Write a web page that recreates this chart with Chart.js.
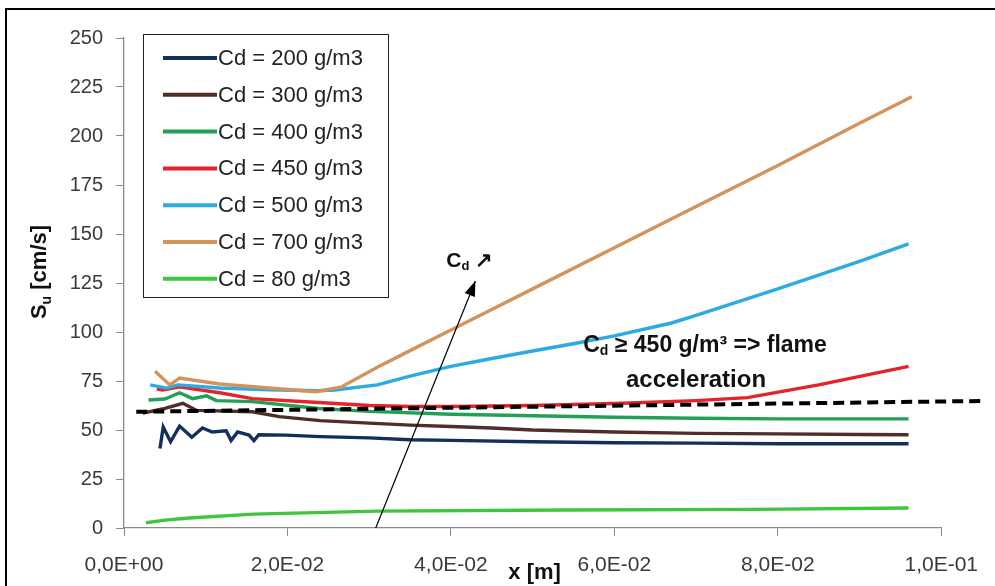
<!DOCTYPE html>
<html>
<head>
<meta charset="utf-8">
<script src="https://cdn.jsdelivr.net/npm/chart.js@4.4.0/dist/chart.umd.min.js"></script>
<style>
  html, body { margin: 0; padding: 0; background: #fff; }
  #wrap { width: 995px; height: 586px; }
</style>
</head>
<body>
<div id="wrap"><canvas id="flameChart" width="995" height="586"></canvas></div>
<script>
const seriesLabels = ["Cd = 200 g/m3", "Cd = 300 g/m3", "Cd = 400 g/m3", "Cd = 450 g/m3", "Cd = 500 g/m3", "Cd = 700 g/m3", "Cd = 80 g/m3"];
const seriesColors = ["#142f5c", "#4f2e29", "#22a055", "#e4232a", "#2aabe2", "#d3935a", "#3fc63e"];

const x200 = [0.0044, 0.0048, 0.0057, 0.0068, 0.0076, 0.0083, 0.0096, 0.0108, 0.0125, 0.0131, 0.0139, 0.0153, 0.0159, 0.0165, 0.0198, 0.024, 0.03, 0.035, 0.04, 0.05, 0.06, 0.07, 0.08, 0.09, 0.096];
const su200 = [40.5, 51.5, 44, 52, 49, 46.3, 51, 49, 49.6, 44.6, 49, 47.4, 44.6, 47.6, 47.4, 46.6, 46, 45, 44.7, 44, 43.5, 43.3, 43, 43, 43];

const x300 = [0.0023, 0.0047, 0.0072, 0.0089, 0.0157, 0.019, 0.024, 0.03, 0.035, 0.04, 0.045, 0.05, 0.055, 0.06, 0.07, 0.08, 0.09, 0.096];
const su300 = [58.6, 60.7, 63.6, 60, 59.3, 56.8, 54.8, 53.5, 52.5, 51.8, 51, 50, 49.5, 49, 48.3, 48, 47.7, 47.6];

const x400 = [0.003, 0.005, 0.0068, 0.0084, 0.0101, 0.0113, 0.0157, 0.0238, 0.03, 0.04, 0.05, 0.06, 0.07, 0.08, 0.096];
const su400 = [65.3, 65.8, 69, 66, 67.4, 65, 64.5, 61, 59.5, 58, 57.3, 56.5, 56, 55.7, 55.7];

const x450 = [0.004, 0.0047, 0.0068, 0.0117, 0.0157, 0.0238, 0.03, 0.035, 0.04, 0.05, 0.06, 0.07, 0.0763, 0.085, 0.096];
const su450 = [71, 70.4, 72, 69, 66, 64, 62.5, 62, 62, 62.5, 63.5, 65, 66.5, 73, 82.5];

const x500 = [0.0032, 0.0052, 0.0066, 0.0117, 0.0177, 0.0238, 0.0258, 0.031, 0.035, 0.04, 0.045, 0.05, 0.055, 0.06, 0.067, 0.07, 0.08, 0.09, 0.096];
const su500 = [73, 71.4, 73, 71.4, 70.5, 70, 70.4, 73, 77.5, 82.5, 86.5, 90.3, 94, 98, 104.6, 108.5, 122, 136, 145];

const x700 = [0.0038, 0.0056, 0.0068, 0.0117, 0.0177, 0.0235, 0.0266, 0.031, 0.035, 0.04, 0.045, 0.05, 0.06, 0.07, 0.08, 0.09, 0.0964];
const su700 = [80, 73, 76.5, 73.5, 71.4, 69.5, 72, 82, 90.5, 101, 111.5, 122, 143, 164, 185, 206.5, 220];

const x80 = [0.0027, 0.005, 0.008, 0.0158, 0.031, 0.054, 0.077, 0.096];
const su80 = [2.7, 4, 5.1, 7.1, 8.6, 9.2, 9.5, 10.2];

// dashed trend line and the "Cd increases" arrow
const xDash = [0.0015, 0.1049];
const suDash = [59.3, 64.8];
const xArrow = [0.0308, 0.0430];
const suArrow = [0, 126];

const xTicks = [0, 0.02, 0.04, 0.06, 0.08, 0.1];

const textFont = "'Liberation Sans', Arial, sans-serif";

function toPoints(xs, ys) {
    return xs.map((x, i) => ({ x: x, y: ys[i] }));
}

function sciComma(v) {
    const parts = v.toExponential(1).split("e");
    const ex = parseInt(parts[1], 10);
    return parts[0].replace(".", ",") + "E" + (ex < 0 ? "-" : "+") + String(Math.abs(ex)).padStart(2, "0");
}

const seriesX = [x200, x300, x400, x450, x500, x700, x80];
const seriesY = [su200, su300, su400, su450, su500, su700, su80];

const datasets = seriesLabels.map((label, i) => ({
    label: label,
    data: toPoints(seriesX[i], seriesY[i]),
    borderColor: seriesColors[i],
    borderWidth: 3.4,
    pointRadius: 0,
    showLine: true,
    tension: 0,
    order: 10 - i
}));

datasets.push({
    label: "trend",
    data: toPoints(xDash, suDash),
    borderColor: "#000",
    borderWidth: 4,
    borderDash: [11, 6],
    pointRadius: 0,
    showLine: true,
    clip: false,
    order: 0
});

datasets.push({
    label: "arrow",
    data: toPoints(xArrow, suArrow),
    borderColor: "#000",
    borderWidth: 1.2,
    pointRadius: 0,
    showLine: true,
    clip: false,
    order: 0
});

// draws frame, legend, axis titles and text notes
const decorPlugin = {
    id: "decor",
    beforeDraw(chart) {
        const ctx = chart.ctx;
        ctx.save();
        ctx.fillStyle = "#fff";
        ctx.fillRect(0, 0, chart.width, chart.height);
        ctx.strokeStyle = "#000";
        ctx.lineWidth = 2;
        ctx.beginPath();
        ctx.moveTo(6, chart.height + 5);
        ctx.lineTo(6, 9);
        ctx.lineTo(chart.width + 5, 9);
        ctx.stroke();
        ctx.restore();
    },
    afterDatasetsDraw(chart) {
        const ctx = chart.ctx;
        const xs = chart.scales.x, ys = chart.scales.y;
        const bx = xs.getPixelForValue(xArrow[0]), by = ys.getPixelForValue(suArrow[0]);
        const tx = xs.getPixelForValue(xArrow[1]), ty = ys.getPixelForValue(suArrow[1]);
        const ang = Math.atan2(ty - by, tx - bx);
        const len = 15, half = 5.5;
        ctx.save();
        ctx.fillStyle = "#000";
        ctx.beginPath();
        ctx.moveTo(tx, ty);
        ctx.lineTo(tx - len * Math.cos(ang) + half * Math.sin(ang), ty - len * Math.sin(ang) - half * Math.cos(ang));
        ctx.lineTo(tx - len * Math.cos(ang) - half * Math.sin(ang), ty - len * Math.sin(ang) + half * Math.cos(ang));
        ctx.closePath();
        ctx.fill();
        ctx.restore();
    },
    afterDraw(chart) {
        const ctx = chart.ctx;
        const area = chart.chartArea;
        const xs = chart.scales.x, ys = chart.scales.y;
        ctx.save();

        // legend
        const lx = area.left + 19, ly = area.top - 4, lw = 245, lh = 263;
        ctx.fillStyle = "#fff";
        ctx.fillRect(lx, ly, lw, lh);
        ctx.strokeStyle = "#222";
        ctx.lineWidth = 1;
        ctx.strokeRect(lx + 0.5, ly + 0.5, lw, lh);
        ctx.font = "22px " + textFont;
        ctx.textBaseline = "middle";
        ctx.textAlign = "left";
        seriesLabels.forEach((label, i) => {
            const y = ly + 24 + i * 36.8;
            ctx.strokeStyle = seriesColors[i];
            ctx.lineWidth = 4;
            ctx.beginPath();
            ctx.moveTo(lx + 20, y);
            ctx.lineTo(lx + 74, y);
            ctx.stroke();
            ctx.fillStyle = "#222";
            ctx.fillText(label, lx + 75, y + 1);
        });

        // y title: Su [cm/s]
        ctx.fillStyle = "#111";
        ctx.textBaseline = "alphabetic";
        ctx.translate(46, (area.top + area.bottom) / 2 - 11);
        ctx.rotate(-Math.PI / 2);
        const big = "bold 22px " + textFont, small = "bold 14px " + textFont;
        ctx.font = big; const wS = ctx.measureText("S").width;
        ctx.font = small; const wU = ctx.measureText("u").width;
        ctx.font = big; const wRest = ctx.measureText(" [cm/s]").width;
        let x0 = -(wS + wU + wRest) / 2;
        ctx.fillText("S", x0, 0);
        ctx.font = small; ctx.fillText("u", x0 + wS, 5);
        ctx.font = big; ctx.fillText(" [cm/s]", x0 + wS + wU, 0);
        ctx.setTransform(1, 0, 0, 1, 0, 0);

        // x title
        ctx.font = "bold 22px " + textFont;
        ctx.textAlign = "center";
        ctx.fillText("x [m]", (area.left + area.right) / 2 + 2, chart.height - 7);

        // "Cd ..." notes
        const drawCd = (text, cx, cy, size) => {
            const f1 = "bold " + size + "px " + textFont;
            const f2 = "bold " + Math.round(size * 0.62) + "px " + textFont;
            ctx.font = f1; const a = ctx.measureText("C").width;
            ctx.font = f2; const b = ctx.measureText("d").width;
            ctx.font = f1; const c = ctx.measureText(text).width;
            const sx = cx - (a + b + c) / 2;
            ctx.textAlign = "left";
            ctx.fillText("C", sx, cy);
            ctx.font = f2; ctx.fillText("d", sx + a, cy + 5);
            ctx.font = f1; ctx.fillText(text, sx + a + b, cy);
        };
        ctx.textBaseline = "middle";
        drawCd(" \u2197", xs.getPixelForValue(0.0423), ys.getPixelForValue(136), 21);
        drawCd(" \u2265 450 g/m\u00b3 => flame", xs.getPixelForValue(0.0711), ys.getPixelForValue(93), 23);
        ctx.font = "bold 24px " + textFont;
        ctx.textAlign = "center";
        ctx.fillText("acceleration", xs.getPixelForValue(0.0700), ys.getPixelForValue(75.5));
        ctx.restore();
    }
};

new Chart(document.getElementById("flameChart"), {
    type: "scatter",
    data: { datasets: datasets },
    options: {
        responsive: false,
        animation: false,
        layout: { padding: { top: 38, right: 48, left: 0, bottom: 0 } },
        plugins: { legend: { display: false }, tooltip: { enabled: false } },
        scales: {
            x: {
                type: "linear",
                min: 0,
                max: 0.1,
                afterBuildTicks(scale) { scale.ticks = xTicks.map(v => ({ value: v })); },
                afterFit(scale) { scale.height = 58; },
                ticks: {
                    callback: v => sciComma(v),
                    color: "#3a3a3a",
                    font: { family: textFont, size: 21 },
                    padding: 17,
                    maxRotation: 0
                },
                grid: { drawOnChartArea: false, drawTicks: true, tickLength: 8, color: "#8a8a8a" },
                border: { color: "#8a8a8a", width: 1.3 }
            },
            y: {
                min: 0,
                max: 250,
                afterFit(scale) { scale.width = 124; },
                ticks: {
                    stepSize: 25,
                    color: "#3a3a3a",
                    font: { family: textFont, size: 20 },
                    padding: 13
                },
                grid: { drawOnChartArea: false, drawTicks: true, tickLength: 8, color: "#8a8a8a" },
                border: { color: "#8a8a8a", width: 1.3 }
            }
        }
    },
    plugins: [decorPlugin]
});
</script>
</body>
</html>
